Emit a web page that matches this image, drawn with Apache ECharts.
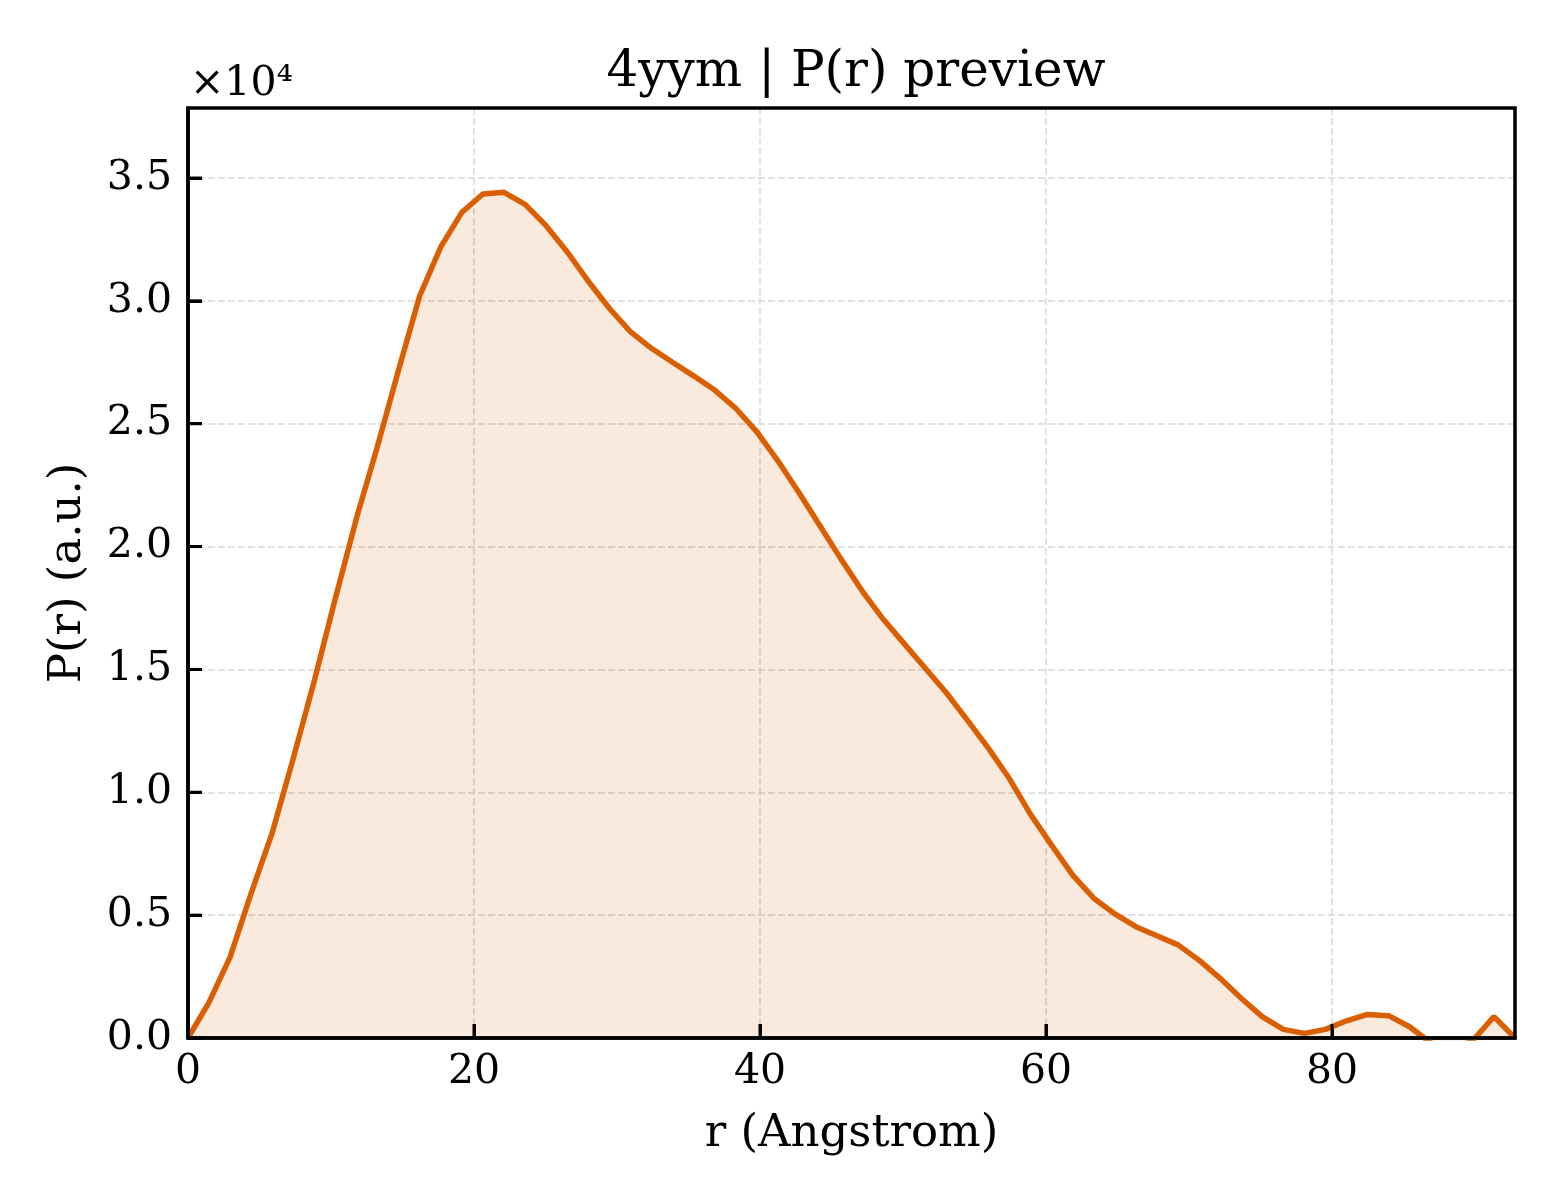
<!DOCTYPE html>
<html>
	<head>
		<meta charset="utf-8">
		<title>4yym | P(r) preview</title>
		<style type="text/css">
			html, body { margin: 0; padding: 0; background: #fff; }
			#box { width: 1560px; height: 1200px; }
		</style>
	</head>
	<body>
		<div id="box"></div>
	</body>
	<script src="https://cdn.jsdelivr.net/npm/echarts@6/dist/echarts.min.js"></script>
	<script type="text/javascript">
    // r values (Angstrom)
    var rValues = [
      0.0, 1.47, 2.95, 4.42, 5.89, 7.37, 8.84, 10.31, 11.78, 13.26,
      14.73, 16.2, 17.68, 19.15, 20.62, 22.1, 23.57, 25.04, 26.51, 27.99,
      29.46, 30.93, 32.41, 33.88, 35.35, 36.83, 38.3, 39.77, 41.24, 42.72,
      44.19, 45.66, 47.14, 48.61, 50.08, 51.56, 53.03, 54.5, 55.97, 57.45,
      58.92, 60.39, 61.87, 63.34, 64.81, 66.29, 67.76, 69.23, 70.7, 72.18,
      73.65, 75.12, 76.6, 78.07, 79.54, 81.02, 82.49, 83.96, 85.43, 86.91,
      88.38, 89.85, 91.33, 92.8
    ];
    // P(r) values (a.u.)
    var prValues = [
      0, 1450, 3300, 5900, 8350, 11400, 14550, 17900, 21150, 24100,
      27200, 30200, 32200, 33600, 34350, 34420, 33930, 33060, 32000, 30800,
      29700, 28750, 28070, 27500, 26950, 26370, 25630, 24680, 23500, 22200,
      20850, 19500, 18200, 17050, 16050, 15050, 14050, 12940, 11800, 10550,
      9100, 7850, 6630, 5690, 5050, 4530, 4160, 3790, 3170, 2430,
      1620, 870, 350, 190, 350, 700, 960, 910, 460, -200,
      -500, -100, 870, 0
    ];
    var xTicks = [0, 20, 40, 60, 80];
    var yTicks = [0, 5000, 10000, 15000, 20000, 25000, 30000, 35000];
    var xMax = 92.8;
    var yMax = 37850;

    var font = "DejaVu Serif";
    var lineColor = "#d95f02";

    var dom = document.getElementById("box");
    var myChart = echarts.init(dom, null, { renderer: "canvas" });

    var pts = [];
    for (var i = 0; i < rValues.length; i++) {
      pts.push([rValues[i], prValues[i]]);
    }

    var option = {
      backgroundColor: "#ffffff",
      animation: false,
      title: {
        text: "4yym | P(r) preview",
        left: 851,
        textAlign: "center",
        top: 43,
        textStyle: { fontFamily: font, fontSize: 50, fontWeight: "normal", color: "#000" },
      },
      grid: {
        left: 188,
        right: 45,
        top: 108,
        bottom: 162,
      },
      xAxis: {
        type: "value",
        min: 0,
        max: xMax,
        interval: 20,
        name: "r (Angstrom)",
        nameLocation: "middle",
        nameGap: 74,
        nameTextStyle: { fontFamily: font, fontSize: 45, color: "#000" },
        axisLine: { show: true, lineStyle: { color: "#000", width: 3.5 } },
        axisTick: { show: true, inside: true, length: 14, lineStyle: { color: "#000", width: 3 } },
        axisLabel: {
          showMaxLabel: false,
          margin: 14,
          fontFamily: font,
          fontSize: 41,
          color: "#000",
          formatter: function (v) {
            return xTicks.indexOf(v) >= 0 ? String(v) : "";
          },
        },
        splitLine: {
          show: true,
          showMinLine: false,
          showMaxLine: false,
          lineStyle: { color: "#d8d8d8", width: 1.5, type: [7, 3] },
        },
      },
      yAxis: {
        type: "value",
        min: 0,
        max: yMax,
        interval: 5000,
        name: "P(r) (a.u.)",
        nameLocation: "middle",
        nameGap: 97,
        nameTextStyle: { fontFamily: font, fontSize: 45, color: "#000" },
        axisLine: { show: true, lineStyle: { color: "#000", width: 3.5 } },
        axisTick: { show: true, inside: true, length: 14, lineStyle: { color: "#000", width: 3 } },
        axisLabel: {
          showMaxLabel: false,
          margin: 16,
          fontFamily: font,
          fontSize: 41,
          color: "#000",
          formatter: function (v) {
            return yTicks.indexOf(v) >= 0 ? (v / 10000).toFixed(1) : "";
          },
        },
        splitLine: {
          show: true,
          showMinLine: false,
          showMaxLine: false,
          lineStyle: { color: "#d8d8d8", width: 1.5, type: [7, 3] },
        },
      },
      series: [
        {
          name: "P(r)",
          type: "line",
          data: pts,
          showSymbol: false,
          clip: true,
          lineStyle: { color: lineColor, width: 5.5 },
          areaStyle: { color: lineColor, opacity: 0.13, origin: 0 },
        },
      ],
    };
    myChart.setOption(option);

    // frame, offset text and inward ticks placed through the chart's own scales
    var p0 = myChart.convertToPixel({ gridIndex: 0 }, [0, 0]);
    var p1 = myChart.convertToPixel({ gridIndex: 0 }, [xMax, yMax]);
    var gfx = [
      {
        type: "text",
        left: p0[0] + 2,
        top: 64,
        style: { text: "×10⁴", fontFamily: font, fontSize: 41, fill: "#000" },
      },
      {
        type: "rect",
        z: 100,
        silent: true,
        shape: { x: p0[0], y: p1[1], width: p1[0] - p0[0], height: p0[1] - p1[1] },
        style: { fill: null, stroke: "#000", lineWidth: 3.5 },
      },
    ];
    xTicks.forEach(function (v) {
      var p = myChart.convertToPixel({ gridIndex: 0 }, [v, 0]);
      gfx.push({
        type: "line", z: 100, silent: true,
        shape: { x1: p[0], y1: p0[1], x2: p[0], y2: p0[1] - 14 },
        style: { stroke: "#000", lineWidth: 3 },
      });
    });
    yTicks.forEach(function (v) {
      var p = myChart.convertToPixel({ gridIndex: 0 }, [0, v]);
      gfx.push({
        type: "line", z: 100, silent: true,
        shape: { x1: p0[0], y1: p[1], x2: p0[0] + 14, y2: p[1] },
        style: { stroke: "#000", lineWidth: 3 },
      });
    });
    myChart.setOption({ graphic: gfx });
  </script>
</html>
